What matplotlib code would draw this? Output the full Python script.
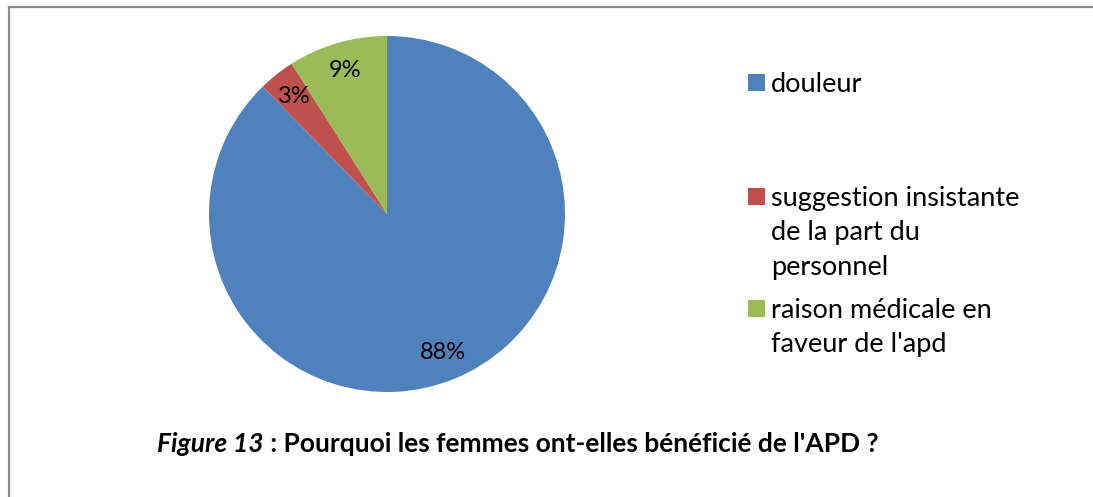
import matplotlib
matplotlib.use("Agg")
import matplotlib.pyplot as plt
from matplotlib.patches import Rectangle
from matplotlib.lines import Line2D

plt.rcParams["font.family"] = ["Lato", "DejaVu Sans"]

categories = [
    "douleur",
    "suggestion insistante\nde la part du\npersonnel",
    "raison médicale en\nfaveur de l'apd",
]
shares = [87.7, 3.3, 9.0]
colors = ["#4F81BD", "#C0504D", "#9BBB59"]
caption_fig = "Figure 13"
caption_rest = " : Pourquoi les femmes ont-elles bénéficié de l'APD ?"

W, H = 1093, 497
fig = plt.figure(figsize=(W / 100, H / 100), dpi=100)
fig.patch.set_facecolor("white")

# open frame (only top and left edges visible)
fig.add_artist(Line2D([8.5 / W, 1.0], [1 - 7 / H, 1 - 7 / H], color="#8c8c8c", lw=1.6))
fig.add_artist(Line2D([8.5 / W, 8.5 / W], [0.0, 1 - 7 / H], color="#8c8c8c", lw=1.6))

# pie: centre (387, 214), radius 178 px
ax = fig.add_axes([209 / W, (H - 392) / H, 356 / W, 356 / H])
wedges, texts, autotexts = ax.pie(
    shares,
    colors=colors,
    startangle=90,
    counterclock=False,
    autopct="%.0f%%",
    pctdistance=0.84,
    wedgeprops={"linewidth": 0},
    textprops={"fontsize": 17, "color": "black"},
)
ax.set_xlim(-1, 1)
ax.set_ylim(-1, 1)
ax.set_aspect("equal")
ax.axis("off")

# legend entries, laid out like the spreadsheet legend
legend_tops = [74, 188, 300]
for label, color, top in zip(categories, colors, legend_tops):
    fig.add_artist(Rectangle((748 / W, 1 - (top + 17) / H), 17 / W, 17 / H,
                             facecolor=color, edgecolor="none",
                             transform=fig.transFigure))
    fig.text(771 / W, 1 - (top - 2) / H, label, fontsize=19.5, va="top",
             ha="left", linespacing=1.47)

# caption
t1 = fig.text(157 / W, 1 - 444 / H, caption_fig, fontsize=19, fontweight="bold",
              fontstyle="italic", va="center", ha="left")
fig.canvas.draw()
bb = t1.get_window_extent()
fig.text(bb.x1 / W, 1 - 444 / H, caption_rest, fontsize=19, fontweight="bold",
         va="center", ha="left")

fig.savefig("out.png", dpi=100)
